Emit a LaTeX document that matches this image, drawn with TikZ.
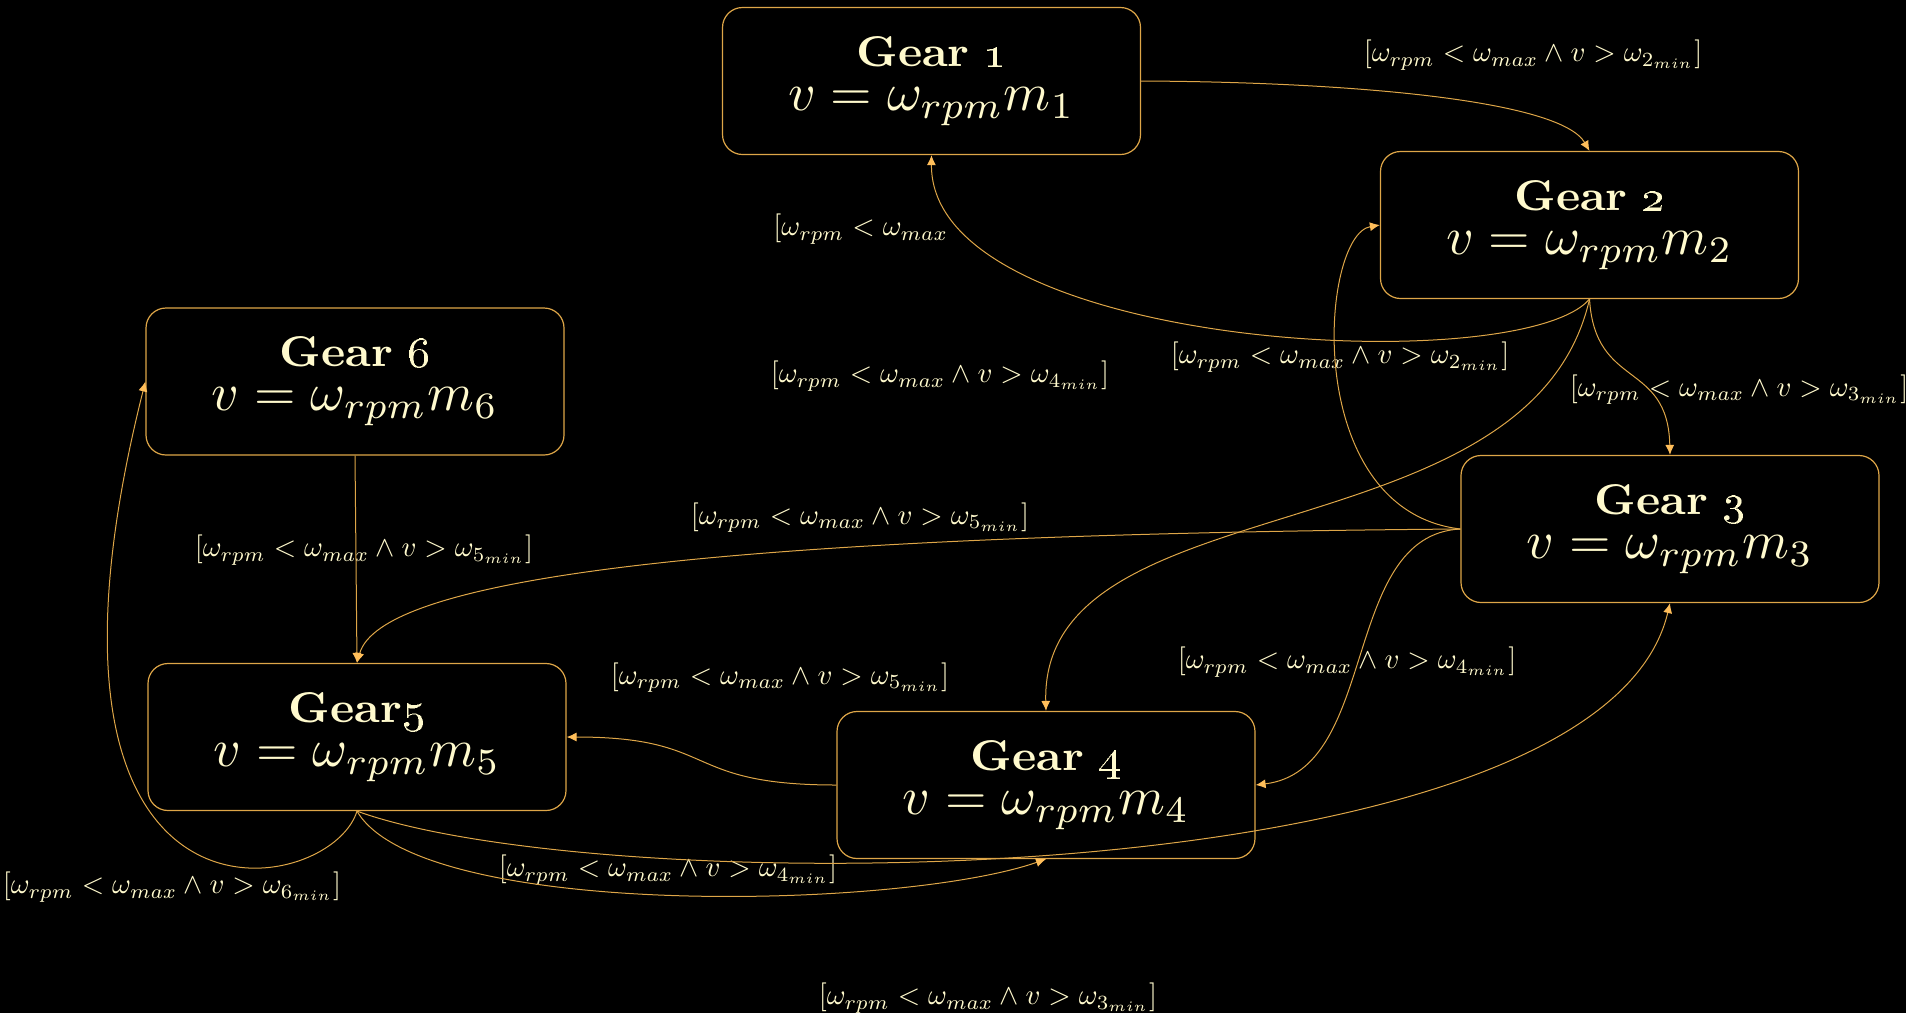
\documentclass[tikz,border=0pt]{standalone}
\usepackage{graphicx}
\usetikzlibrary{arrows.meta,calc}
\definecolor{edgecol}{RGB}{222,166,72}
\definecolor{tipcol}{RGB}{255,190,90}
\definecolor{txtcol}{RGB}{255,250,205}
\setlength{\lineskiplimit}{-100pt}
\newcommand{\gearlabel}[2]{\raisebox{-1.5pt}{\scalebox{2.3}[2.15]{\bfseries Gear#1\oldstylenums{#2}}}\\\raisebox{-1pt}{\scalebox{2.67}{$v=\omega_{rpm}m_{#2}$}}}
\newcommand{\cond}[1]{\scalebox{1.44}{$[\omega_{rpm}<\omega_{max}\wedge v>\omega_{#1_{min}}]$}}
\begin{document}
\begin{tikzpicture}[x=0.5pt,y=-0.5pt,
  gear/.style={draw=edgecol, line width=0.6pt, rounded corners=10pt,
    minimum width=209pt, minimum height=73.5pt, inner sep=0pt, align=center,
    text=txtcol, font=\fontsize{10}{22.5}\selectfont},
  lbl/.style={text=txtcol, inner sep=0pt, font=\fontsize{10}{12}\selectfont},
  arr/.style={draw=edgecol, line width=0.5pt,
    -{Latex[length=5pt,width=4.5pt,color=tipcol]}}]
\fill[black] (0,0) rectangle (1906,1013);
\path[use as bounding box] (0,0) rectangle (1906,1013);

% gears
\node[gear] (g1) at (931.5,81) {\gearlabel{\hspace{3pt}}{1}};
\node[gear] (g2) at (1589.5,225) {\gearlabel{\hspace{3pt}}{2}};
\node[gear] (g3) at (1670,529) {\gearlabel{\hspace{3pt}}{3}};
\node[gear] (g4) at (1046,785) {\gearlabel{\hspace{3pt}}{4}};
\node[gear] (g5) at (357,737) {\gearlabel{}{5}};
\node[gear] (g6) at (355,381.5) {\gearlabel{\hspace{3pt}}{6}};

% labels
\node[lbl] (l1) at (1533,55) {\cond{2}};
\node[lbl, anchor=west] (l2) at (773,229) {\scalebox{1.44}{$[\omega_{rpm}<\omega_{max}$}};
\node[lbl] (l3) at (940,376) {\cond{4}};
\node[lbl] (l4) at (1340,357) {\cond{2}};
\node[lbl] (l5) at (1739,389.5) {\cond{3}};
\node[lbl] (l6) at (860,517.5) {\cond{5}};
\node[lbl] (l7) at (364,550) {\cond{5}};
\node[lbl] (l8) at (1347,662) {\cond{4}};
\node[lbl] (l9) at (780,677.5) {\cond{5}};
\node[lbl] (l10) at (172,887) {\cond{6}};
\node[lbl] (l11) at (668,870) {\cond{4}};
\node[lbl] (l12) at (988,998) {\cond{3}};

% edges
\draw[arr] (g1.east) .. controls (1350,82) and (1560,100) .. (g2.north);
\draw[arr] (g2.south) .. controls (1520,380) and (930,350) .. (g1.south);
\draw[arr] (g2.south) .. controls (1595,390) and (1668,360) .. (g3.north);
\draw[arr] (g2.south) .. controls (1530,560) and (1040,480) .. (g4.north);
\draw[arr] (g3.west) .. controls (1300,510) and (1320,235) .. (g2.west);
\draw[arr] (g3.west) .. controls (700,535) and (380,580) .. (g5.north);
\draw[arr] (g3.west) .. controls (1340,535) and (1380,770) .. (g4.east);
\draw[arr] (g4.west) .. controls (680,785) and (720,737) .. (g5.east);
\draw[arr] (g5.south) .. controls (330,900) and (0,960) .. (g6.west);
\draw[arr] (g5.south) .. controls (420,920) and (900,910) .. (g4.south);
\draw[arr] (g5.south) .. controls (600,900) and (1600,900) .. (g3.south);
\draw[arr] (g6.south) -- (g5.north);
\end{tikzpicture}
\end{document}
